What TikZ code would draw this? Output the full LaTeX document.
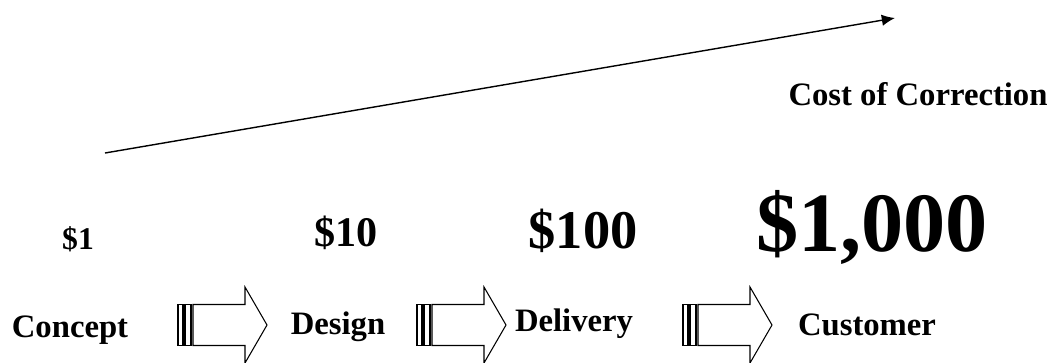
\documentclass[tikz,border=0pt]{standalone}
\usepackage{fontspec}
\setmainfont{Liberation Serif}
\usetikzlibrary{arrows.meta}

% one hollow stage arrow with two bars at its tail, left edge at #1
\newcommand{\stagearrow}[1]{%
\begin{scope}[shift={(#1,-32.5)}]
\draw [black, line width=0.6pt] (0,2.05) rectangle (0.5,-2.05);
\draw [black, line width=0.6pt] (0.7,2.05) rectangle (1.3,-2.05);
\draw [black, line width=0.6pt] (1.5,2.05) -- (6.7,2.05) -- (6.7,3.8) -- (8.9,0)
  -- (6.7,-3.8) -- (6.7,-2.05) -- (1.5,-2.05) -- cycle;
\end{scope}}

\begin{document}
\begin{tikzpicture}[scale=0.2]
\tikzstyle{every node}+=[inner sep=0pt, font=\bfseries]
\tikzstyle{stage}=[anchor=base, font=\fontsize{18.6}{20}\selectfont\bfseries]
\tikzstyle{price}=[anchor=base]
\useasboundingbox (0,0) rectangle (105.2,-36.2);
% rising cost line
\coordinate (lowcost) at (10.5,-15.3);
\coordinate (highcost) at (89.5,-1.8);
\draw [black, line width=0.8pt, -{Latex[length=7.5pt,width=6.5pt]}] (lowcost) -- (highcost);
\node [stage] (costlabel) at (91.8,-10.5) {Cost of Correction};
% prices
\node [price, font=\fontsize{18}{20}\selectfont\bfseries] (price1) at (7.8,-24.9) {\$1};
\node [price, font=\fontsize{24}{26}\selectfont\bfseries] (price10) at (34.6,-24.6) {\$10};
\node [price, font=\fontsize{31}{33}\selectfont\bfseries] (price100) at (58.3,-24.8) {\$100};
\node [price, font=\fontsize{48}{50}\selectfont\bfseries] (price1000) at (87.2,-25.1) {\$1,000};
% stages
\node [stage] (concept) at (7.0,-33.7) {Concept};
\node [stage] (design) at (33.8,-33.4) {Design};
\node [stage] (delivery) at (57.4,-33.1) {Delivery};
\node [stage] (customer) at (86.7,-33.5) {Customer};
\stagearrow{17.8}
\stagearrow{41.7}
\stagearrow{68.3}
\end{tikzpicture}
\end{document}
